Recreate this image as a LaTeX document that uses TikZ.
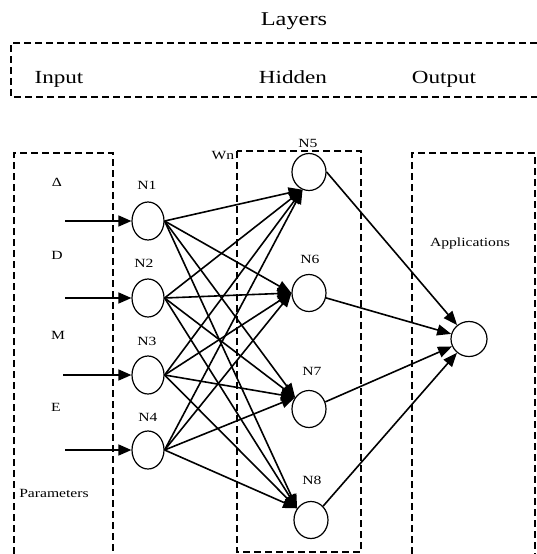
\documentclass[tikz,border=0pt]{standalone}
\usepackage{fontspec}
\setmainfont{Liberation Serif}
\usepackage{graphicx}
\usetikzlibrary{arrows.meta,shapes.geometric}
\newcommand{\wideTxt}[1]{\scalebox{1.25}[1]{#1}}
\begin{document}
\begin{tikzpicture}[x=1pt,y=-1pt,
  dbox/.style={dash pattern=on 7pt off 4pt, line width=1.3pt},
  bigtxt/.style={font=\fontsize{18.5}{20}\selectfont, anchor=base, inner sep=0pt},
  smalltxt/.style={font=\fontsize{12.5}{14}\selectfont, anchor=base, inner sep=0pt},
  inneuron/.style={ellipse, draw, line width=1.2pt, minimum width=32pt, minimum height=38pt, inner sep=0pt},
  hidneuron/.style={inneuron, minimum width=34pt, minimum height=37pt},
  outneuron/.style={inneuron, minimum width=36pt, minimum height=35pt},
  conn/.style={line width=1.6pt, -{Triangle[length=14pt,width=11pt]}},
  inarrow/.style={line width=1.6pt, -{Triangle[length=13pt,width=11pt]}},
]
\useasboundingbox (0,0) rectangle (537,554);

% top layers box (open on the right)
\draw[dbox] (537,43) -- (11,43) -- (11,97) -- (537,97);
\node[bigtxt, font=\fontsize{19.5}{21}\selectfont] (tLayers) at (294,25) {\wideTxt{Layers}};
\node[bigtxt] (tInput) at (59,83) {\wideTxt{Input}};
\node[bigtxt] (tHidden) at (293,83) {\wideTxt{Hidden}};
\node[bigtxt] (tOutput) at (444,83) {\wideTxt{Output}};

% layer boxes
\draw[dbox] (14,554) -- (14,153) -- (113,153) -- (113,554);
\draw[dbox] (237,151) rectangle (361,552);
\draw[dbox] (412,554) -- (412,153) -- (535,153) -- (535,554);

% parameter labels
\node[smalltxt] (pDelta) at (57,186) {\wideTxt{Δ}};
\node[smalltxt] (pD) at (57,259) {\wideTxt{D}};
\node[smalltxt] (pM) at (58,339) {\wideTxt{M}};
\node[smalltxt] (pE) at (56,411) {\wideTxt{E}};
\node[smalltxt] (pParam) at (54,497) {\wideTxt{Parameters}};
\node[smalltxt] (tWn) at (223,159) {\wideTxt{Wn}};
\node[smalltxt] (tApp) at (470,246) {\wideTxt{Applications}};

% neurons
\node[inneuron] (N1) at (148,221) {};
\node[inneuron] (N2) at (148,298) {};
\node[inneuron] (N3) at (148,375) {};
\node[inneuron] (N4) at (148,450) {};
\node[hidneuron] (N5) at (309,172) {};
\node[hidneuron] (N6) at (309,293) {};
\node[hidneuron] (N7) at (309,409) {};
\node[hidneuron] (N8) at (311,520) {};
\node[outneuron] (out) at (469,339) {};

% neuron labels
\node[smalltxt] (lN1) at (147,189) {\wideTxt{N1}};
\node[smalltxt] (lN2) at (144,267) {\wideTxt{N2}};
\node[smalltxt] (lN3) at (147,345) {\wideTxt{N3}};
\node[smalltxt] (lN4) at (148,421) {\wideTxt{N4}};
\node[smalltxt] (lN5) at (308,147) {\wideTxt{N5}};
\node[smalltxt] (lN6) at (310,263) {\wideTxt{N6}};
\node[smalltxt] (lN7) at (312,375) {\wideTxt{N7}};
\node[smalltxt] (lN8) at (312,484) {\wideTxt{N8}};

% input arrows
\coordinate (i1) at (65,221);
\coordinate (i2) at (65,298);
\coordinate (i3) at (63,375);
\coordinate (i4) at (65,450);
\draw[inarrow] (i1) -- (N1);
\draw[inarrow] (i2) -- (N2);
\draw[inarrow] (i3) -- (N3);
\draw[inarrow] (i4) -- (N4);

% input -> hidden
\foreach \i in {1,...,4}{
  \foreach \j/\a in {5/250,6/180,7/140,8/140}{
    \draw[conn] (N\i.east) -- (N\j.\a);
  }
}

% hidden -> output
\draw[conn] (N5.east) -- (out);
\draw[conn] (N6) -- (out);
\draw[conn] (N7) -- (out);
\draw[conn] (N8) -- (out);
\end{tikzpicture}
\end{document}
